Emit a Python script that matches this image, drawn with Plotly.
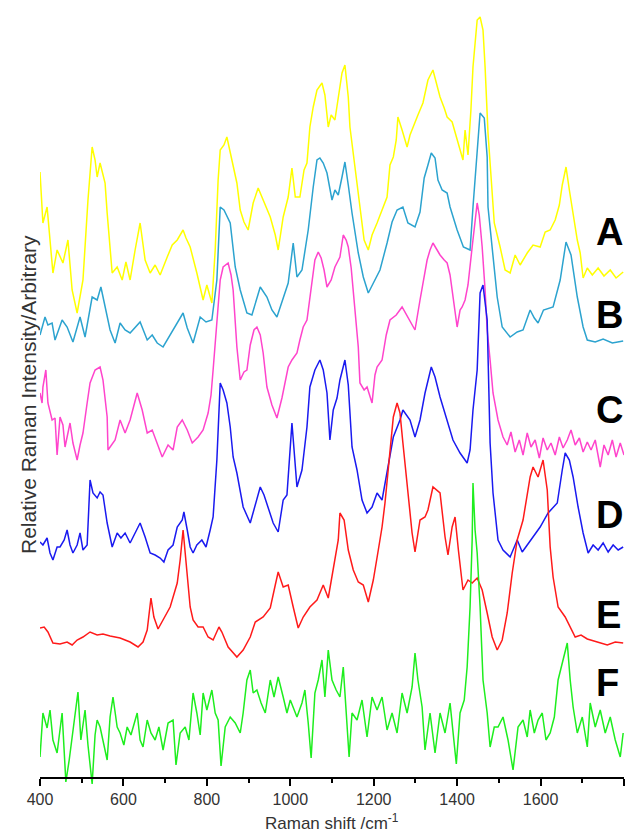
import plotly.graph_objects as go

# Raman shift (cm-1) and stacked relative intensity (arbitrary units)
A_x = [400,407,417,426,431,441,455,467,477,489,503,515,525,532,537,544,556,561,573,585,597,606,616,628,640,652,664,676,688,705,717,729,743,750,760,776,791,800,812,820,827,832,841,848,856,863,872,880,889,899,911,923,930,940,952,964,971,983,995,1004,1012,1023,1033,1040,1047,1055,1064,1076,1083,1091,1098,1107,1115,1124,1131,1139,1143,1151,1160,1167,1177,1187,1196,1208,1220,1232,1239,1247,1254,1258,1268,1280,1287,1294,1306,1318,1330,1342,1352,1359,1369,1376,1388,1400,1407,1414,1419,1426,1433,1438,1448,1455,1462,1467,1474,1481,1489,1503,1515,1527,1539,1551,1568,1582,1599,1611,1623,1635,1645,1652,1661,1669,1678,1688,1695,1702,1712,1724,1738,1752,1767,1781,1798]
A_y = [606,555,571,531,505,528,515,538,488,465,498,578,631,618,601,615,595,565,505,511,498,516,498,528,555,518,505,513,503,521,533,538,548,540,531,505,478,493,475,528,598,628,633,641,625,613,595,568,556,548,575,590,583,573,561,543,528,561,581,610,581,581,608,615,651,671,688,695,683,651,663,658,678,705,713,681,651,625,591,573,538,528,543,555,568,581,613,621,638,661,648,631,643,651,663,675,698,708,693,681,670,661,656,638,628,618,648,623,668,711,758,761,748,711,645,603,555,531,508,505,523,513,525,533,531,546,548,558,573,593,611,588,565,538,525,500,510,503,510,502,508,500,506]

B_x = [400,412,419,429,436,453,465,479,496,508,525,537,546,556,568,580,592,604,616,640,657,669,681,695,712,729,743,753,767,784,798,812,824,832,841,856,868,880,896,908,918,928,944,956,968,983,995,1007,1016,1028,1043,1055,1064,1071,1079,1088,1095,1100,1107,1115,1124,1131,1139,1148,1163,1175,1187,1203,1215,1232,1244,1256,1270,1282,1299,1311,1321,1330,1338,1347,1354,1364,1376,1383,1400,1415,1431,1438,1448,1455,1465,1472,1474,1484,1496,1508,1527,1544,1558,1575,1585,1594,1607,1630,1647,1661,1673,1688,1702,1712,1731,1750,1772,1798]
B_y = [443,461,453,455,438,458,451,436,461,441,481,478,491,471,448,435,455,448,445,456,438,443,435,431,443,455,465,450,435,461,456,458,498,571,568,555,511,488,465,463,478,491,481,468,461,481,495,535,501,508,548,591,618,620,615,605,588,578,588,583,601,616,593,565,525,501,485,498,508,535,556,568,571,555,551,566,600,613,625,620,598,588,585,571,548,531,528,571,628,665,660,621,571,531,481,451,441,446,448,468,460,455,468,471,498,536,523,481,451,438,436,439,435,437]

C_x = [400,405,407,414,419,429,436,441,448,455,460,472,479,489,496,503,513,520,532,544,551,561,563,580,592,604,616,633,645,657,669,681,693,707,719,729,741,753,765,779,791,803,810,815,824,832,839,851,858,863,872,880,889,896,904,913,920,928,935,944,956,968,980,995,1004,1016,1023,1031,1040,1047,1055,1059,1067,1074,1081,1088,1098,1107,1119,1127,1134,1139,1146,1151,1163,1167,1177,1184,1196,1203,1208,1220,1230,1239,1254,1268,1282,1292,1299,1311,1321,1328,1335,1342,1352,1359,1369,1376,1383,1388,1395,1400,1407,1412,1419,1426,1436,1443,1448,1453,1460,1467,1472,1479,1486,1498,1510,1520,1529,1539,1549,1558,1568,1577,1587,1597,1606,1616,1625,1635,1645,1654,1664,1673,1683,1693,1702,1712,1721,1731,1743,1752,1762,1772,1781,1791,1800]
C_y = [385,375,391,408,375,358,360,323,361,353,331,355,335,318,333,345,375,395,408,411,398,361,328,338,358,345,358,385,368,345,348,335,321,333,328,351,358,348,335,341,348,365,383,408,458,498,511,515,503,488,431,398,406,408,433,448,451,443,425,391,373,360,380,411,418,425,438,451,458,481,503,518,526,520,508,491,498,511,521,543,538,531,510,488,431,395,388,391,375,403,411,418,443,458,463,471,461,453,448,478,500,518,528,535,528,523,518,515,503,488,468,451,468,471,478,493,531,558,575,563,531,488,448,418,385,358,341,333,346,326,338,323,345,331,338,320,340,328,335,323,341,330,338,348,333,340,326,336,328,338,311,333,323,338,321,335,323]

D_x = [400,407,417,424,431,441,448,458,465,472,479,489,496,503,513,520,527,537,544,551,561,573,585,594,604,616,628,640,652,664,676,688,697,707,719,729,741,745,753,760,767,776,788,798,808,815,824,832,839,848,856,863,872,887,904,913,928,937,947,959,971,983,992,1004,1016,1028,1040,1047,1059,1071,1079,1088,1095,1103,1112,1119,1131,1139,1148,1160,1172,1184,1196,1208,1220,1232,1247,1263,1270,1287,1299,1311,1323,1338,1347,1359,1376,1390,1407,1424,1431,1438,1448,1455,1462,1472,1479,1486,1498,1510,1527,1544,1556,1568,1582,1599,1618,1640,1652,1659,1669,1678,1690,1702,1714,1726,1738,1750,1762,1774,1786,1798]
D_y = [236,233,240,225,218,231,231,238,248,233,225,233,245,228,233,298,285,280,286,283,255,231,245,240,245,235,245,255,241,225,223,220,216,228,233,251,258,266,248,231,225,233,238,231,248,261,318,395,388,375,351,321,305,271,255,268,291,283,271,255,246,278,283,355,291,308,351,391,408,418,408,385,338,368,380,398,418,393,331,308,278,265,271,285,278,305,341,358,368,358,341,358,385,411,401,381,358,338,325,315,328,368,408,485,493,458,335,285,238,228,221,238,226,233,241,251,265,275,308,325,318,301,271,245,225,233,228,235,226,233,228,231]

E_x = [400,410,419,431,448,465,477,489,503,520,537,551,568,592,616,635,647,657,666,673,683,695,712,729,736,743,750,755,760,767,779,791,803,815,829,836,851,872,887,904,916,935,952,964,971,983,995,1007,1019,1031,1047,1064,1079,1091,1103,1115,1119,1129,1139,1151,1163,1175,1187,1199,1211,1220,1227,1239,1247,1256,1263,1270,1280,1292,1299,1311,1323,1330,1342,1352,1359,1371,1378,1388,1395,1403,1407,1414,1426,1436,1448,1460,1472,1484,1496,1508,1520,1532,1544,1558,1575,1582,1594,1606,1616,1623,1630,1642,1659,1671,1683,1697,1712,1736,1760,1779,1798]
E_y = [150,151,146,135,134,136,133,138,141,146,143,144,142,140,136,131,136,148,180,161,149,158,171,195,218,248,218,193,171,158,151,151,141,138,151,146,131,121,128,141,156,161,170,193,206,191,193,171,150,161,171,178,193,180,211,238,265,258,228,208,196,193,176,198,228,251,275,331,361,375,365,335,291,245,226,258,261,268,291,288,285,241,223,251,261,228,211,188,198,195,200,188,165,141,128,138,165,205,238,258,301,311,301,318,288,231,201,171,161,151,141,143,139,136,133,136,135]

F_x = [400,407,417,424,431,441,453,458,462,470,479,491,498,508,515,525,532,537,544,551,561,568,575,585,592,601,609,618,633,640,647,657,666,676,685,695,707,719,726,736,748,757,767,776,784,791,800,812,820,827,834,844,856,868,880,887,896,904,911,920,930,940,952,961,971,983,992,1000,1007,1016,1028,1035,1043,1050,1059,1067,1076,1083,1091,1100,1110,1119,1127,1134,1141,1148,1160,1172,1184,1196,1208,1220,1232,1244,1256,1268,1280,1292,1299,1306,1316,1323,1335,1347,1359,1371,1383,1398,1407,1417,1424,1431,1436,1438,1443,1448,1455,1462,1472,1479,1489,1498,1510,1522,1534,1546,1558,1568,1575,1585,1594,1604,1613,1623,1633,1642,1654,1664,1671,1678,1688,1700,1712,1719,1731,1743,1755,1767,1779,1791,1798]
F_y = [21,65,50,68,38,25,65,33,-4,18,45,86,38,68,33,-6,43,58,51,38,18,61,81,51,45,33,51,43,65,38,31,58,45,38,51,28,55,58,13,45,51,38,85,65,43,85,68,88,65,58,12,51,61,55,45,65,98,108,85,88,75,65,98,81,101,81,65,78,71,61,75,88,55,20,85,98,118,81,128,98,88,81,111,68,21,65,58,78,41,81,68,81,48,65,45,85,65,91,125,98,71,28,65,25,65,45,75,14,65,78,111,171,238,295,248,225,171,98,65,31,51,51,61,38,8,51,58,41,68,45,58,65,38,45,61,98,118,135,98,71,45,61,31,75,51,68,45,61,38,21,45]

labels = ["A", "B", "C", "D", "E", "F"]
label_y = [546, 463, 368, 263, 163, 95]
colors = ["#ffff00", "#2ca3cf", "#ff44cc", "#1a1af0", "#ff1a1a", "#1eee1e"]

series = [(A_x, A_y), (B_x, B_y), (C_x, C_y), (D_x, D_y), (E_x, E_y), (F_x, F_y)]

fig = go.Figure()
for (xs, ys), c, name in zip(series, colors, labels):
    fig.add_trace(go.Scatter(x=xs, y=ys, mode="lines", name=name,
                             line=dict(color=c, width=1.5), showlegend=False))

for lab, ly in zip(labels, label_y):
    fig.add_annotation(x=1728, y=ly, xref="x", yref="y", text="<b>%s</b>" % lab,
                       showarrow=False, xanchor="left", yanchor="middle",
                       font=dict(family="Liberation Sans, Arial", size=38, color="black"))

fig.add_annotation(x=0.5, y=-0.0405, xref="paper", yref="paper",
                   text="Raman shift /cm<sup>-1</sup>", showarrow=False,
                   xanchor="center", yanchor="middle",
                   font=dict(family="Liberation Sans, Arial", size=17, color="#333333"))
fig.add_annotation(x=-0.0205, y=0.50, xref="paper", yref="paper",
                   text="Relative Raman Intensity/Arbitrary", showarrow=False,
                   textangle=-90, xanchor="center", yanchor="middle",
                   font=dict(family="Liberation Sans, Arial", size=21, color="#333333"))

tickvals = [400, 600, 800, 1000, 1200, 1400, 1600, 1800]
ticktext = ["400", "600", "800", "1000", "1200", "1400", "1600", ""]

fig.update_layout(
    width=626, height=833,
    margin=dict(l=40, r=2, t=0, b=43),
    paper_bgcolor="white", plot_bgcolor="white",
    xaxis=dict(range=[400, 1800], anchor="free", position=12/790,
               showgrid=False, zeroline=False, showline=True, linecolor="black", linewidth=1.5,
               ticks="outside", ticklen=7, tickwidth=1.5, tickcolor="black",
               tickvals=tickvals, ticktext=ticktext,
               minor=dict(ticks="outside", ticklen=4, tickwidth=1.5, tickcolor="black", dtick=100),
               tickfont=dict(family="Liberation Sans, Arial", size=16, color="#333333")),
    yaxis=dict(range=[-12, 778], visible=False, showgrid=False, zeroline=False),
)

fig.write_html("out.html")
